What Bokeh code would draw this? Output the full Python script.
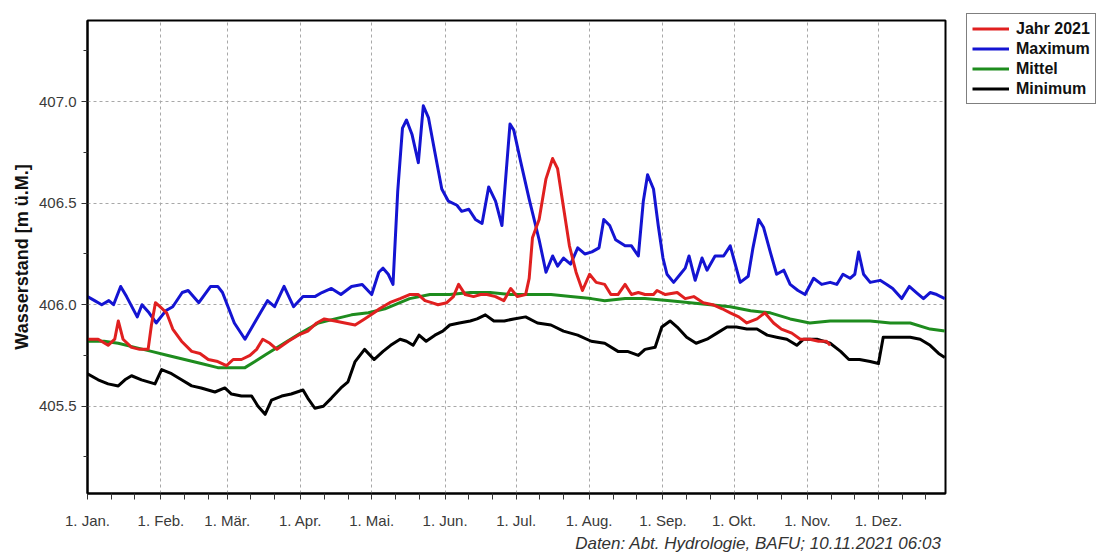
from bokeh.plotting import figure
from bokeh.models import FixedTicker, Legend, LegendItem, Title, Range1d
from bokeh.embed import file_html
from bokeh.resources import INLINE

# ---- x axis: day of year (0 = 1. Jan.) ----
month_days = [0, 31, 59, 90, 120, 151, 181, 212, 243, 273, 304, 334]
month_labels = ["1. Jan.", "1. Feb.", "1. Mär.", "1. Apr.", "1. Mai.", "1. Jun.",
                "1. Jul.", "1. Aug.", "1. Sep.", "1. Okt.", "1. Nov.", "1. Dez."]
y_ticks = [405.5, 406.0, 406.5, 407.0]
y_labels = ["405.5", "406.0", "406.5", "407.0"]

# ---- Maximum (blue) ----
max_day = [0, 3, 6, 9, 11, 14, 16.5, 21, 23, 26, 29, 33, 36, 40, 42.5, 47, 52, 55, 57, 62,
           66.5, 70, 73, 76, 79, 83, 87, 91, 96, 99, 103, 107, 111.5, 116, 120,
           123, 124.8, 127, 129, 131, 133, 134.7, 137, 139.7, 141.8, 144, 146.7, 149.6, 152.4,
           156, 158, 161, 163.8, 166.6, 169.4, 172.3, 175, 178.4, 180, 183, 186.5, 190.7,
           193.6, 196.4, 198.5, 201, 204, 207, 210, 213, 216, 218, 220.5, 223, 227, 229.7,
           232.6, 234.7, 236.5, 239, 241, 243,
           244.7, 247.5, 250.3, 252.4, 254, 256.6, 259.5, 261.6, 265, 268.6, 271.4, 272.8,
           275.6, 279, 281, 283.4, 285.5, 288.3, 291, 294, 296.7, 300, 303, 306.6, 310,
           313.6, 316.4, 319, 322, 324, 325.6, 327.7, 330.5, 334.7, 337.5, 340, 343.8, 347,
           350, 353, 355.8, 358.6, 362]
max_val = [406.04, 406.02, 406.00, 406.02, 406.00, 406.09, 406.04, 405.94, 406.00, 405.96,
           405.91, 405.97, 405.99, 406.06, 406.07, 406.01, 406.09, 406.09, 406.06, 405.91,
           405.83, 405.90, 405.96, 406.02, 405.99, 406.09, 405.99, 406.04, 406.04, 406.06,
           406.08, 406.05, 406.09, 406.10, 406.05,
           406.16, 406.18, 406.15, 406.10, 406.56, 406.87, 406.91, 406.84, 406.70, 406.98,
           406.92, 406.75, 406.57, 406.51, 406.49, 406.46, 406.47, 406.42, 406.40, 406.58,
           406.51, 406.39, 406.89, 406.86, 406.70, 406.52, 406.32, 406.16, 406.24, 406.19,
           406.23, 406.20, 406.28, 406.25, 406.26, 406.28, 406.42, 406.39, 406.32, 406.29,
           406.29, 406.24, 406.51, 406.64, 406.57, 406.39, 406.23,
           406.15, 406.11, 406.15, 406.18, 406.24, 406.12, 406.23, 406.17, 406.24, 406.24,
           406.29, 406.23, 406.11, 406.14, 406.28, 406.42, 406.38, 406.26, 406.15, 406.17,
           406.10, 406.07, 406.05, 406.13, 406.10, 406.11, 406.10, 406.15, 406.13, 406.15,
           406.26, 406.15, 406.11, 406.12, 406.10, 406.08, 406.03, 406.09, 406.06, 406.03,
           406.06, 406.05, 406.03]

# ---- Jahr 2021 (red) ----
y2021_day = [0, 4.5, 8.7, 11.5, 13, 15, 18.6, 22, 25.6, 27, 28.7, 30.6, 33.4, 36, 39.7, 44,
             47.5, 51, 55, 58.7, 61.5, 65, 68.6, 71.4, 74, 77, 80, 84.8, 89, 93, 96.8, 100,
             104.5, 108.7, 113, 117, 121,
             123.3, 127.6, 132, 136, 139.7, 142.5, 145.3, 148, 151.7, 154.5, 156.7, 159.5, 163,
             166, 168.7, 172.3, 175.8, 178.7, 181.5, 185, 186.5, 187.9, 190.7, 193.6, 196.4,
             198.5, 200.6, 203.5, 206.3, 209, 212, 214.8, 218.4, 221, 224, 227, 229.7, 232.6,
             235.4, 239,
             240.5, 244, 249, 252.4, 256, 260, 264, 268, 271.4, 275, 278.4, 282.7, 286, 289.7,
             293, 297.4, 301, 305, 308.7, 312, 313.6]
y2021_val = [405.83, 405.83, 405.80, 405.83, 405.92, 405.83, 405.79, 405.78, 405.78, 405.90,
             406.01, 405.99, 405.96, 405.88, 405.82, 405.77, 405.76, 405.73, 405.72, 405.70,
             405.73, 405.73, 405.75, 405.78, 405.83, 405.81, 405.78, 405.82, 405.85, 405.87,
             405.91, 405.93, 405.92, 405.91, 405.90, 405.93, 405.96,
             405.98, 406.01, 406.03, 406.05, 406.05, 406.02, 406.01, 406.00, 406.01, 406.04,
             406.10, 406.05, 406.04, 406.05, 406.05, 406.04, 406.02, 406.08, 406.04, 406.05,
             406.13, 406.33, 406.42, 406.62, 406.72, 406.67, 406.51, 406.29, 406.16, 406.07,
             406.15, 406.11, 406.10, 406.05, 406.05, 406.10, 406.05, 406.06, 406.05, 406.05,
             406.07, 406.05, 406.06, 406.03, 406.04, 406.01, 406.00, 405.98, 405.96, 405.94,
             405.91, 405.93, 405.96, 405.91, 405.88, 405.86, 405.83, 405.83, 405.82, 405.82,
             405.80]

# ---- Mittel (green) ----
mean_day = [0, 7, 13, 20, 27, 34, 41, 48, 55, 62, 66.5, 70.7, 76, 83, 90, 97.5, 104.5, 111.5,
            118.6, 125.6, 136, 144.6, 153, 161.6, 170, 178.7, 187, 195.7, 204, 212.7, 218.4,
            227, 235.4, 246, 254.5, 263, 271.4, 280, 288.3, 296.7, 305, 313.6, 322, 330.5,
            339, 347.4, 355.8, 362]
mean_val = [405.82, 405.82, 405.81, 405.79, 405.77, 405.75, 405.73, 405.71, 405.69, 405.69,
            405.69, 405.72, 405.76, 405.81, 405.86, 405.91, 405.93, 405.95, 405.96, 405.98,
            406.03, 406.05, 406.05, 406.06, 406.06, 406.05, 406.05, 406.05, 406.04, 406.03,
            406.02, 406.03, 406.03, 406.02, 406.01, 406.00, 405.99, 405.97, 405.96, 405.93,
            405.91, 405.92, 405.92, 405.92, 405.91, 405.91, 405.88, 405.87]

# ---- Minimum (black) ----
min_day = [0, 4.5, 8.7, 13, 15.8, 18.6, 22.8, 28.5, 31.3, 35.5, 39.7, 44, 48, 53.8, 58, 60.8,
           65, 69.3, 72, 75, 77.7, 82, 86, 91, 93, 96, 99.6, 103, 107, 110, 113, 117, 121,
           124.8, 128, 132, 134.7, 137.5, 140, 143, 146.7, 150, 153, 157, 161.6, 164.5, 168,
           171.6, 176, 180, 185, 190, 195.7, 201, 207, 212.7, 218.4, 224, 228, 232.6, 235.4,
           239.7, 242.5,
           246, 249, 253, 257, 261.6, 265.8, 270, 274, 278.4, 282.7, 287, 291, 295.3, 299.5,
           302.4, 308, 313.6, 318, 321.5, 326, 330.5, 334, 336, 341.7, 347.4, 351.6, 355.8,
           359.4, 362]
min_val = [405.66, 405.63, 405.61, 405.60, 405.63, 405.65, 405.63, 405.61, 405.68, 405.66,
           405.63, 405.60, 405.59, 405.57, 405.59, 405.56, 405.55, 405.55, 405.50, 405.46,
           405.53, 405.55, 405.56, 405.58, 405.54, 405.49, 405.50, 405.54, 405.59, 405.62,
           405.72, 405.78, 405.73,
           405.77, 405.80, 405.83, 405.82, 405.80, 405.85, 405.82, 405.85, 405.87, 405.90,
           405.91, 405.92, 405.93, 405.95, 405.92, 405.92, 405.93, 405.94, 405.91, 405.90,
           405.87, 405.85, 405.82, 405.81, 405.77, 405.77, 405.75, 405.78, 405.79, 405.89,
           405.92, 405.89, 405.84, 405.81, 405.83, 405.86, 405.89, 405.89, 405.88, 405.88,
           405.85, 405.84, 405.83, 405.80, 405.83, 405.83, 405.81, 405.77, 405.73, 405.73,
           405.72, 405.71, 405.84, 405.84, 405.84, 405.83, 405.80, 405.76, 405.74]

assert len(max_day) == len(max_val)
assert len(y2021_day) == len(y2021_val)
assert len(mean_day) == len(mean_val)
assert len(min_day) == len(min_val)

FONT = "Liberation Sans"

p = figure(frame_width=858, frame_height=473, output_backend="svg", toolbar_location=None,
           x_range=Range1d(0, 362.3), y_range=Range1d(405.07, 407.4),
           min_border_left=87, min_border_top=20, min_border_right=0, min_border_bottom=0,
           background_fill_color="white", border_fill_color="white")

p.outline_line_color = "black"
p.outline_line_width = 2

minor_x = sorted(set([d + 10 for d in month_days] + [d + 20 for d in month_days if d + 20 < 362]))
p.xaxis.ticker = FixedTicker(ticks=month_days, minor_ticks=minor_x)
p.xaxis.major_label_overrides = {d: l for d, l in zip(month_days, month_labels)}
p.yaxis.ticker = FixedTicker(ticks=y_ticks, minor_ticks=[405.25, 405.75, 406.25, 406.75, 407.25])
p.yaxis.major_label_overrides = {v: l for v, l in zip(y_ticks, y_labels)}

for ax in (p.xaxis[0], p.yaxis[0]):
    ax.axis_line_color = "black"
    ax.axis_line_width = 2
    ax.major_tick_line_color = "#333333"
    ax.minor_tick_line_color = "#333333"
    ax.major_label_text_font = FONT
    ax.major_label_text_font_size = "15px"
    ax.major_label_text_color = "#3a3a3a"

p.xaxis.major_tick_out = 6
p.xaxis.major_tick_in = 0
p.xaxis.minor_tick_out = 6
p.xaxis.minor_tick_in = 0
p.xaxis.major_label_standoff = 12
p.yaxis.major_tick_out = 6
p.yaxis.major_tick_in = 0
p.yaxis.minor_tick_out = 4
p.yaxis.minor_tick_in = 0
p.yaxis.major_label_standoff = 5

p.yaxis.axis_label = "Wasserstand [m ü.M.]"
p.yaxis.axis_label_text_font = FONT
p.yaxis.axis_label_text_font_style = "bold"
p.yaxis.axis_label_text_font_size = "18px"
p.yaxis.axis_label_text_color = "#111111"
p.yaxis.axis_label_standoff = 4

p.xgrid.ticker = FixedTicker(ticks=month_days)
p.ygrid.ticker = FixedTicker(ticks=y_ticks)
for g in (p.xgrid[0], p.ygrid[0]):
    g.grid_line_color = "#a8a8a8"
    g.grid_line_width = 1
    g.grid_line_dash = "3 3"

r_min = p.line(min_day, min_val, line_color="black", line_width=3, line_join="round")
r_mean = p.line(mean_day, mean_val, line_color="#1e8c1e", line_width=3, line_join="round")
r_max = p.line(max_day, max_val, line_color="#1414d2", line_width=3, line_join="round")
r_2021 = p.line(y2021_day, y2021_val, line_color="#e02020", line_width=3, line_join="round")

legend = Legend(items=[LegendItem(label="Jahr 2021", renderers=[r_2021]),
                       LegendItem(label="Maximum", renderers=[r_max]),
                       LegendItem(label="Mittel", renderers=[r_mean]),
                       LegendItem(label="Minimum", renderers=[r_min])],
                location=(21, 389))
legend.label_text_font = FONT
legend.label_text_font_style = "bold"
legend.label_text_font_size = "16px"
legend.label_text_color = "#111111"
legend.glyph_width = 37
legend.glyph_height = 19
legend.label_height = 19
legend.label_standoff = 7
legend.spacing = 1
legend.padding = 5
legend.margin = 0
legend.border_line_color = "black"
legend.border_line_width = 1
legend.background_fill_color = "white"
legend.background_fill_alpha = 1
p.add_layout(legend, "right")

foot = Title(text="Daten: Abt. Hydrologie, BAFU; 10.11.2021 06:03", align="right",
             text_font=FONT, text_font_style="italic", text_font_size="17px",
             text_color="#333333", offset=4, standoff=0)
p.add_layout(foot, "below")

open("out.html", "w").write(file_html(p, INLINE))
